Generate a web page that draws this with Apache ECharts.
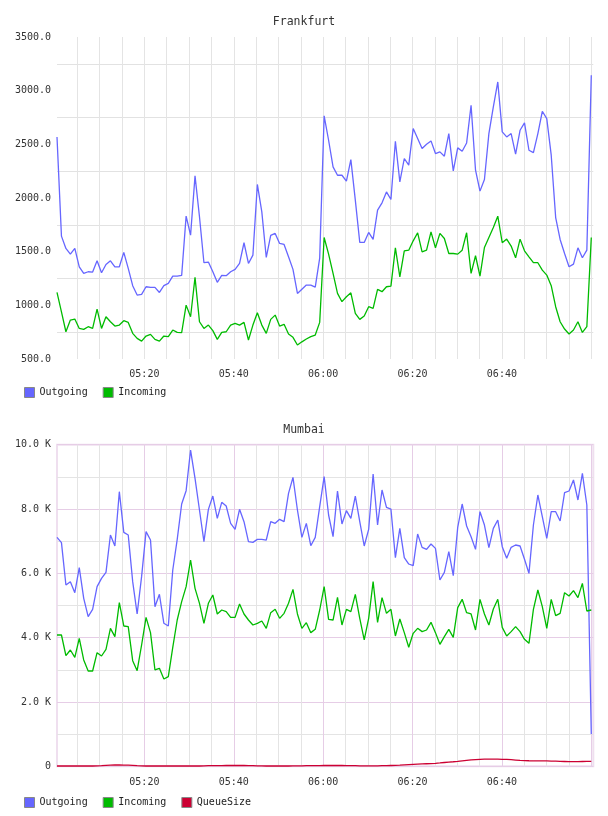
<!DOCTYPE html>
<html>
<head>
<meta charset="utf-8">
<script src="https://cdn.jsdelivr.net/npm/echarts@6/dist/echarts.min.js"></script>
<style>
html,body{margin:0;padding:0;background:#fff;}
#chart{width:608px;height:816px;}
</style>
</head>
<body>
<div id="chart"></div>
<script>
// Time window in minutes after midnight (05:00:27 .. 07:00:27); 121 samples, first at window start, last at 07:00
const windowStart = 300.45;
const windowEnd = 420.45;
const lastSample = 420;
const sampleCount = 121;
const times = Array.from({length: sampleCount}, (_, i) => windowStart + i * (lastSample - windowStart) / (sampleCount - 1));

const seriesNames = ['Outgoing', 'Incoming', 'QueueSize'];
const titles = ['Frankfurt', 'Mumbai'];

const frankfurtOutgoing = [2569,1645,1530,1477,1530,1359,1297,1313,1310,1415,1303,1381,1415,1359,1359,1493,1344,1183,1096,1102,1173,1167,1167,1120,1183,1204,1272,1272,1279,1831,1654,2206,1825,1397,1403,1313,1214,1279,1276,1313,1335,1390,1583,1390,1468,2126,1871,1446,1651,1670,1577,1567,1452,1335,1111,1150,1189,1189,1170,1440,2765,2538,2290,2212,2212,2157,2358,1980,1586,1586,1679,1614,1887,1955,2057,1986,2529,2150,2368,2306,2647,2554,2461,2501,2532,2414,2430,2389,2600,2253,2467,2436,2513,2864,2259,2064,2172,2600,2849,3081,2616,2569,2600,2408,2631,2700,2445,2423,2600,2808,2740,2399,1818,1614,1483,1359,1384,1536,1443,1514,3143];
const frankfurtIncoming = [1120,940,754,863,872,785,776,801,785,965,785,894,847,807,816,857,841,739,692,667,714,730,683,667,714,708,770,748,745,1002,894,1260,847,785,816,764,683,748,754,816,832,816,841,677,816,931,816,739,869,909,807,823,733,702,630,660,686,708,723,841,1632,1477,1297,1111,1034,1080,1117,925,869,900,987,972,1148,1127,1173,1179,1536,1266,1508,1514,1601,1676,1499,1514,1685,1536,1670,1623,1483,1483,1477,1514,1676,1297,1462,1272,1539,1632,1725,1831,1583,1617,1552,1443,1617,1508,1452,1397,1397,1328,1282,1183,987,847,779,733,770,847,748,801,1632];

const mumbaiOutgoing = [7119,6953,5637,5741,5399,6176,5223,4653,4881,5586,5845,6031,7192,6850,8539,7275,7192,5741,4736,5897,7296,7036,4964,5347,4446,4363,6104,7057,8156,8570,9834,8954,7969,6985,7990,8404,7710,8208,8093,7555,7368,7990,7606,6985,6964,7057,7057,7036,7606,7555,7679,7606,8487,8985,7969,7119,7555,6860,7119,8073,9006,7814,7140,8560,7534,7948,7710,8404,7606,6850,7368,9088,7503,8591,8052,8000,6487,7399,6487,6290,6238,7223,6808,6746,6912,6777,5793,6031,6674,5928,7430,8156,7472,7140,6746,7917,7503,6798,7399,7658,6829,6466,6808,6881,6850,6436,6000,7503,8436,7762,7088,7917,7917,7627,8508,8560,8902,8280,9109,8125,1005];
const mumbaiIncoming = [4083,4083,3441,3617,3389,3979,3306,2964,2964,3534,3430,3637,4290,4031,5088,4363,4342,3285,2974,3772,4632,4156,2995,3047,2715,2788,3700,4549,5119,5586,6415,5534,5068,4446,5068,5327,4736,4860,4808,4632,4632,5047,4736,4549,4394,4446,4518,4290,4777,4881,4601,4756,5068,5503,4736,4290,4466,4156,4259,4860,5586,4570,4549,5254,4394,4881,4808,5347,4601,3928,4601,5741,4477,5244,4756,4881,4052,4580,4156,3700,4135,4290,4187,4238,4477,4156,3793,4031,4259,4010,4933,5192,4777,4736,4238,5192,4736,4394,4891,5192,4321,4052,4187,4342,4187,3948,3824,4881,5482,4964,4290,5192,4684,4756,5399,5296,5461,5244,5689,4829,4860];
const mumbaiQueueSize = [10,10,10,10,10,10,10,10,10,15,20,30,35,40,40,35,35,30,20,15,10,10,10,10,10,10,10,10,10,10,10,10,10,15,20,20,20,20,25,25,25,25,25,20,20,15,15,10,10,10,10,10,10,15,15,15,20,20,20,20,25,25,25,25,25,20,20,20,15,15,15,15,15,20,20,25,30,35,45,55,62,68,74,80,86,93,105,118,130,142,155,170,185,200,210,218,220,220,220,220,218,215,205,195,185,176,172,170,168,167,166,163,160,155,150,145,145,148,150,152,155];

const topYTicks = {min: 500, max: 3500, step: 500};
const bottomYTicks = {min: 0, max: 10000, step: 2000};

const colors = {Outgoing: '#6666ff', Incoming: '#00bb00', QueueSize: '#cc0033'};
const FONT = 'DejaVu Sans Mono';

function pairs(arr) { return times.map((t, i) => [t, arr[i]]); }
function timeLabel(v) {
  if (Math.abs(v - Math.round(v)) > 1e-6) return '';
  const m = Math.round(v);
  if (m % 20 !== 0 || m >= 420) return '';
  const h = Math.floor(m / 60), mm = m % 60;
  return String(h).padStart(2, '0') + ':' + String(mm).padStart(2, '0');
}
const labelStyle = {fontFamily: FONT, fontSize: 10, color: '#333'};

const grids = [
  {left: 57, right: 14.7, top: 37, height: 322, show: false},
  {left: 57, right: 14.7, top: 444.7, height: 321.6, show: true, borderColor: '#efdfef', borderWidth: 2, backgroundColor: 'transparent'}
];

const xAxes = [
  {gridIndex: 0, type: 'value', min: windowStart, max: windowEnd, minInterval: 5, maxInterval: 5,
   axisLine: {show: false}, axisTick: {show: false},
   axisLabel: Object.assign({formatter: timeLabel, margin: 10, showMinLabel: false, showMaxLabel: false}, labelStyle),
   splitLine: {show: true, showMinLine: false, showMaxLine: false, lineStyle: {color: '#e4e4e4', width: 1}}},
  {gridIndex: 1, type: 'value', position: 'top', min: windowStart, max: windowEnd, minInterval: 5, maxInterval: 5,
   axisLine: {show: false}, axisTick: {show: false}, axisLabel: {show: false},
   splitLine: {show: true, showMinLine: false, showMaxLine: false, lineStyle: {color: '#e4e4e4', width: 1}}},
  {gridIndex: 1, type: 'value', position: 'bottom', min: windowStart, max: windowEnd, minInterval: 20, maxInterval: 20,
   axisLine: {show: false}, axisTick: {show: false},
   axisLabel: Object.assign({formatter: timeLabel, margin: 11, showMinLabel: false, showMaxLabel: false}, labelStyle),
   splitLine: {show: true, showMinLine: false, showMaxLine: false, lineStyle: {color: '#e6cde6', width: 1}}}
];

const yAxes = [
  {gridIndex: 0, type: 'value', min: topYTicks.min, max: topYTicks.max, interval: topYTicks.step,
   axisLine: {show: false}, axisTick: {show: false},
   axisLabel: Object.assign({formatter: v => v.toFixed(1), margin: 6}, labelStyle),
   splitLine: {show: false},
   minorTick: {show: false, splitNumber: 2},
   minorSplitLine: {show: true, lineStyle: {color: '#e2e2e2', width: 1}}},
  {gridIndex: 1, type: 'value', min: bottomYTicks.min, max: bottomYTicks.max, interval: bottomYTicks.step,
   axisLine: {show: false}, axisTick: {show: false},
   axisLabel: Object.assign({formatter: v => v === 0 ? '0' : (v / 1000).toFixed(1) + ' K', margin: 6}, labelStyle),
   splitLine: {show: true, lineStyle: {color: '#e6cde6', width: 1}},
   minorTick: {show: false, splitNumber: 2},
   minorSplitLine: {show: true, lineStyle: {color: '#e4e4e4', width: 1}}}
];

function line(name, data, xi, yi) {
  return {name, type: 'line', xAxisIndex: xi, yAxisIndex: yi, data: pairs(data), showSymbol: false, symbol: 'none',
    lineStyle: {width: 1.3, color: colors[name]}, itemStyle: {color: colors[name]}, z: 3};
}

const legendBase = {left: 24, icon: 'rect', itemWidth: 10, itemHeight: 10, itemGap: 15, padding: 0,
  textStyle: {fontFamily: FONT, fontSize: 10, color: '#222', padding: [0, 0, 0, 0]},
  itemStyle: {borderColor: '#888', borderWidth: 1}};

const option = {
  animation: false,
  backgroundColor: '#fff',
  title: [
    {text: titles[0], left: 'center', top: 16, padding: 0, textStyle: {fontFamily: FONT, fontSize: 11.5, fontWeight: 'normal', color: '#333'}},
    {text: titles[1], left: 'center', top: 424, padding: 0, textStyle: {fontFamily: FONT, fontSize: 11.5, fontWeight: 'normal', color: '#333'}}
  ],
  legend: [
    Object.assign({}, legendBase, {top: 387, data: seriesNames.slice(0, 2)}),
    Object.assign({}, legendBase, {top: 797, data: seriesNames.slice(0, 3)})
  ],
  grid: grids,
  xAxis: xAxes,
  yAxis: yAxes,
  series: [
    line('Outgoing', frankfurtOutgoing, 0, 0),
    line('Incoming', frankfurtIncoming, 0, 0),
    line('Outgoing', mumbaiOutgoing, 1, 1),
    line('Incoming', mumbaiIncoming, 1, 1),
    line('QueueSize', mumbaiQueueSize, 1, 1)
  ]
};

const chart = echarts.init(document.getElementById('chart'), null, {renderer: 'canvas'});
chart.setOption(option);
</script>
</body>
</html>
